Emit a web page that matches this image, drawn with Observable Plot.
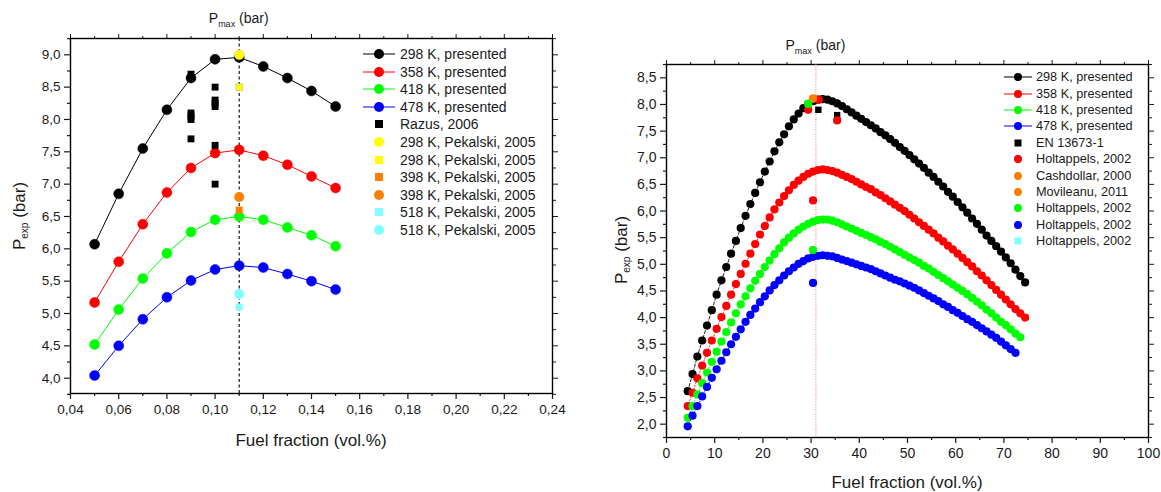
<!DOCTYPE html>
<html><head><meta charset="utf-8">
<script src="https://cdn.jsdelivr.net/npm/d3@7"></script>
<script src="https://cdn.jsdelivr.net/npm/@observablehq/plot@0.6"></script>
<style>
body{margin:0;background:#fff;font-family:"Liberation Sans",Arial,sans-serif;}
#wrap{position:relative;width:1161px;height:492px;overflow:hidden;background:#fff}
.panel{position:absolute;top:0}
.lbl{position:absolute;font-size:17px;color:#1a1a1a;white-space:nowrap;line-height:1}
.lbl sub{font-size:10px;vertical-align:-3px}
.pm{position:absolute;font-size:14px;color:#1a1a1a;white-space:nowrap;line-height:1;transform:translateX(-50%)}
.pm sub{font-size:9px;vertical-align:-4px}
.ylab{transform:translate(-50%,-50%) rotate(-90deg)}
.xlab{transform:translate(-50%,-50%)}
.leg{position:absolute;color:#1a1a1a;white-space:nowrap}
.leg .row{position:absolute;left:0;display:flex;align-items:center}
.leg svg{overflow:visible}
</style></head>
<body><div id="wrap"></div>
<script>
// ---------- LEFT PANEL DATA ----------
const leftX = [0.05, 0.06, 0.07, 0.08, 0.09, 0.10, 0.11, 0.12, 0.13, 0.14, 0.15];
const left298 = [6.07, 6.85, 7.55, 8.15, 8.64, 8.93, 8.96, 8.82, 8.64, 8.44, 8.20];
const left358 = [5.17, 5.80, 6.38, 6.87, 7.25, 7.48, 7.53, 7.44, 7.30, 7.12, 6.94];
const left418 = [4.52, 5.06, 5.54, 5.93, 6.26, 6.45, 6.50, 6.45, 6.33, 6.21, 6.04];
const left478 = [4.04, 4.50, 4.91, 5.25, 5.51, 5.68, 5.74, 5.71, 5.61, 5.50, 5.37];
const razusX = [0.09, 0.09, 0.09, 0.09, 0.09, 0.09, 0.10, 0.10, 0.10, 0.10, 0.10, 0.10];
const razusP = [8.70, 8.65, 8.10, 8.05, 8.00, 7.70, 8.50, 8.30, 8.25, 8.20, 7.60, 7.00];
const pekX = [0.11];
const pek298circle = [9.0];
const pek298square = [8.5];
const pek398square = [6.6];
const pek398circle = [6.8];
const pek518square = [5.1];
const pek518circle = [5.3];
const pmaxLeft = [0.11];
const leftXTicks = [0.04, 0.06, 0.08, 0.10, 0.12, 0.14, 0.16, 0.18, 0.20, 0.22, 0.24];
const leftXMinor = [0.05, 0.07, 0.09, 0.11, 0.13, 0.15, 0.17, 0.19, 0.21, 0.23];
const leftYTicks = [4.0, 4.5, 5.0, 5.5, 6.0, 6.5, 7.0, 7.5, 8.0, 8.5, 9.0];
const leftYMinor = [3.75, 4.25, 4.75, 5.25, 5.75, 6.25, 6.75, 7.25, 7.75, 8.25, 8.75, 9.25];
const leftLegendLabels = ["298 K, presented", "358 K, presented", "418 K, presented", "478 K, presented",
  "Razus, 2006", "298 K, Pekalski, 2005", "298 K, Pekalski, 2005", "398 K, Pekalski, 2005",
  "398 K, Pekalski, 2005", "518 K, Pekalski, 2005", "518 K, Pekalski, 2005"];

// ---------- RIGHT PANEL DATA ----------
const rightX = [4.4, 5.4, 6.4, 7.4, 8.4, 9.4, 10.4, 11.4, 12.4, 13.4, 14.4, 15.4, 16.4, 17.4, 18.4, 19.4,
  20.4, 21.4, 22.4, 23.4, 24.4, 25.4, 26.4, 27.4, 28.4, 29.4, 30.4, 31.4, 32.4, 33.4, 34.4, 35.4, 36.4,
  37.4, 38.4, 39.4, 40.4, 41.4, 42.4, 43.4, 44.4, 45.4, 46.4, 47.4, 48.4, 49.4, 50.4, 51.4, 52.4, 53.4,
  54.4, 55.4, 56.4, 57.4, 58.4, 59.4, 60.4, 61.4, 62.4, 63.4, 64.4, 65.4, 66.4, 67.4, 68.4, 69.4, 70.4,
  71.4, 72.4, 73.4, 74.4];
const right298 = [2.62, 2.94, 3.27, 3.57, 3.85, 4.14, 4.43, 4.70, 4.95, 5.20, 5.44, 5.68, 5.91, 6.13, 6.34,
  6.54, 6.74, 6.93, 7.12, 7.29, 7.44, 7.59, 7.72, 7.83, 7.93, 8.01, 8.06, 8.09, 8.10, 8.09, 8.06, 8.02,
  7.97, 7.91, 7.85, 7.79, 7.73, 7.67, 7.61, 7.55, 7.48, 7.42, 7.35, 7.28, 7.20, 7.13, 7.05, 6.97, 6.89,
  6.81, 6.72, 6.64, 6.55, 6.46, 6.36, 6.27, 6.17, 6.07, 5.97, 5.86, 5.76, 5.65, 5.54, 5.44, 5.34, 5.24,
  5.13, 5.02, 4.90, 4.78, 4.66];
const right358 = [2.34, 2.59, 2.86, 3.10, 3.34, 3.57, 3.79, 4.01, 4.22, 4.43, 4.63, 4.82, 5.01, 5.20, 5.38,
  5.56, 5.72, 5.88, 6.03, 6.16, 6.28, 6.39, 6.49, 6.57, 6.64, 6.70, 6.74, 6.77, 6.78, 6.77, 6.75, 6.72,
  6.68, 6.64, 6.60, 6.55, 6.50, 6.45, 6.41, 6.35, 6.30, 6.24, 6.18, 6.12, 6.06, 6.00, 5.93, 5.86, 5.79,
  5.72, 5.65, 5.58, 5.50, 5.43, 5.35, 5.28, 5.20, 5.12, 5.04, 4.96, 4.87, 4.79, 4.70, 4.61, 4.52, 4.43,
  4.34, 4.25, 4.16, 4.08, 4.00];
const right418 = [2.12, 2.34, 2.56, 2.77, 2.97, 3.17, 3.36, 3.55, 3.73, 3.91, 4.08, 4.25, 4.40, 4.55, 4.69,
  4.82, 4.95, 5.07, 5.19, 5.30, 5.41, 5.50, 5.58, 5.65, 5.71, 5.76, 5.80, 5.83, 5.84, 5.84, 5.82, 5.79,
  5.75, 5.71, 5.67, 5.63, 5.59, 5.55, 5.51, 5.47, 5.42, 5.38, 5.33, 5.28, 5.23, 5.18, 5.13, 5.08, 5.03,
  4.97, 4.92, 4.86, 4.80, 4.74, 4.68, 4.62, 4.56, 4.50, 4.44, 4.37, 4.30, 4.23, 4.15, 4.08, 4.00, 3.92,
  3.86, 3.78, 3.70, 3.63];
const right478 = [1.96, 2.16, 2.34, 2.52, 2.70, 2.87, 3.03, 3.19, 3.35, 3.50, 3.64, 3.78, 3.92, 4.05, 4.17,
  4.29, 4.40, 4.51, 4.61, 4.70, 4.79, 4.87, 4.94, 5.01, 5.06, 5.11, 5.14, 5.16, 5.17, 5.16, 5.15, 5.12,
  5.09, 5.06, 5.03, 5.00, 4.97, 4.94, 4.91, 4.87, 4.83, 4.79, 4.75, 4.71, 4.68, 4.64, 4.60, 4.56, 4.51,
  4.46, 4.41, 4.36, 4.31, 4.25, 4.20, 4.14, 4.09, 4.03, 3.97, 3.92, 3.86, 3.80, 3.74, 3.68, 3.62, 3.55,
  3.48, 3.41, 3.34];
const enX = [31.5, 35.4];
const enP = [7.90, 7.80];
const holt298X = [29.4, 31.6, 35.4];
const holt298P = [7.90, 8.09, 7.70];
const cashX = [30.4];
const cashP = [8.11];
const movX = [30.4];
const movP = [8.11];
const holt358X = [30.4];
const holt358P = [6.20];
const holt418aX = [29.4, 30.4];
const holt418aP = [8.01, 5.27];
const holt478X = [30.4];
const holt478P = [4.65];
const pmaxRight = [31];
const rightXTicks = [0, 10, 20, 30, 40, 50, 60, 70, 80, 90, 100];
const rightXMinor = [5, 15, 25, 35, 45, 55, 65, 75, 85, 95];
const rightYTicks = [2.0, 2.5, 3.0, 3.5, 4.0, 4.5, 5.0, 5.5, 6.0, 6.5, 7.0, 7.5, 8.0, 8.5];
const rightYMinor = [1.75, 2.25, 2.75, 3.25, 3.75, 4.25, 4.75, 5.25, 5.75, 6.25, 6.75, 7.25, 7.75, 8.25, 8.75];
const rightLegendLabels = ["298 K, presented", "358 K, presented", "418 K, presented", "478 K, presented",
  "EN 13673-1", "Holtappels, 2002", "Cashdollar, 2000", "Movileanu, 2011", "Holtappels, 2002",
  "Holtappels, 2002", "Holtappels, 2002"];

// ---------- STYLES ----------
const C = {k: "#000000", r: "#ff0000", g: "#00ff00", b: "#0000ff", y: "#ffff00", o: "#ff8000", c: "#80ffff"};
const leftLegendStyle = [
  {c: C.k, s: "circle", line: true}, {c: C.r, s: "circle", line: true}, {c: C.g, s: "circle", line: true},
  {c: C.b, s: "circle", line: true}, {c: C.k, s: "square"}, {c: C.y, s: "circle"}, {c: C.y, s: "square"},
  {c: C.o, s: "square"}, {c: C.o, s: "circle"}, {c: C.c, s: "square"}, {c: C.c, s: "circle"}];
const rightLegendStyle = [
  {c: C.k, s: "circle", line: true}, {c: C.r, s: "circle", line: true}, {c: C.g, s: "circle", line: true},
  {c: C.b, s: "circle", line: true}, {c: C.k, s: "square"}, {c: C.r, s: "circle"}, {c: C.o, s: "circle"},
  {c: C.o, s: "circle"}, {c: C.g, s: "circle"}, {c: C.b, s: "circle"}, {c: C.c, s: "square"}];

const rows = (xs, ys) => ys.map((y, i) => ({x: xs[i], y}));
const comma = (d, n) => d.toFixed(n).replace(".", ",");
const FONT = "Liberation Sans, Arial, sans-serif";

function frameAxes(xT, xM, yT, yM, xFmt, yFmt, fs) {
  const blank = () => "";
  return [
    Plot.axisX({ticks: xT, tickSize: 6, tickPadding: 5, tickFormat: xFmt, label: null, fontSize: fs, strokeWidth: 1.2}),
    Plot.axisX({ticks: xM, tickSize: 3, tickFormat: blank, label: null, strokeWidth: 1.2}),
    Plot.axisX({anchor: "top", ticks: xT, tickSize: 5, tickFormat: blank, label: null, strokeWidth: 1}),
    Plot.axisX({anchor: "top", ticks: xM, tickSize: 3, tickFormat: blank, label: null, strokeWidth: 1}),
    Plot.axisY({ticks: yT, tickSize: 6, tickPadding: 4, tickFormat: yFmt, label: null, fontSize: fs, strokeWidth: 1.2}),
    Plot.axisY({ticks: yM, tickSize: 3, tickFormat: blank, label: null, strokeWidth: 1.2}),
    Plot.axisY({anchor: "right", ticks: yT, tickSize: 5, tickFormat: blank, label: null, strokeWidth: 1}),
    Plot.axisY({anchor: "right", ticks: yM, tickSize: 3, tickFormat: blank, label: null, strokeWidth: 1}),
    Plot.frame({stroke: "#000", strokeWidth: 1.4})
  ];
}

// ---------- LEFT PLOT ----------
const leftSeries = [[left298, C.k], [left358, C.r], [left418, C.g], [left478, C.b]];
const leftPlot = Plot.plot({
  width: 580, height: 492,
  marginLeft: 70, marginRight: 28, marginTop: 38, marginBottom: 99,
  style: {fontFamily: FONT, fontSize: "13.5px", color: "#1a1a1a", background: "transparent"},
  x: {domain: [0.04, 0.24]},
  y: {domain: [3.763, 9.252]},
  marks: [
    ...frameAxes(leftXTicks, leftXMinor, leftYTicks, leftYMinor, d => comma(d, 2), d => comma(d, 1), 13.5),
    Plot.ruleX(pmaxLeft, {stroke: "#000", strokeDasharray: "3,2.5", strokeWidth: 1.1}),
    ...leftSeries.flatMap(([ys, col]) => [
      Plot.line(rows(leftX, ys), {x: "x", y: "y", stroke: col, strokeWidth: 1}),
      Plot.dot(rows(leftX, ys), {x: "x", y: "y", r: 5, fill: col, stroke: col, strokeWidth: 0.5})
    ]),
    Plot.dot(rows(razusX, razusP), {x: "x", y: "y", symbol: "square", r: 3.9, fill: C.k}),
    Plot.dot(rows(pekX, pek298square), {x: "x", y: "y", symbol: "square", r: 3.9, fill: C.y, stroke: "#999", strokeWidth: 0.4}),
    Plot.dot(rows(pekX, pek298circle), {x: "x", y: "y", r: 5, fill: C.y, stroke: "#bbb", strokeWidth: 0.4}),
    Plot.dot(rows(pekX, pek398square), {x: "x", y: "y", symbol: "square", r: 3.9, fill: C.o}),
    Plot.dot(rows(pekX, pek398circle), {x: "x", y: "y", r: 5, fill: C.o}),
    Plot.dot(rows(pekX, pek518square), {x: "x", y: "y", symbol: "square", r: 3.9, fill: C.c}),
    Plot.dot(rows(pekX, pek518circle), {x: "x", y: "y", r: 5, fill: C.c})
  ]
});

// ---------- RIGHT PLOT ----------
const rightSeries = [[right298, C.k, "3,2"], [right358, C.r, "1,2"], [right418, C.g, "1,2"], [right478, C.b, "1,2"]];
const rightPlot = Plot.plot({
  width: 581, height: 492,
  marginLeft: 86, marginRight: 13, marginTop: 64, marginBottom: 55,
  style: {fontFamily: FONT, fontSize: "14px", color: "#1a1a1a", background: "transparent"},
  x: {domain: [0, 100]},
  y: {domain: [1.75, 8.75]},
  marks: [
    ...frameAxes(rightXTicks, rightXMinor, rightYTicks, rightYMinor, d => String(d), d => comma(d, 1), 14),
    Plot.ruleX(pmaxRight, {stroke: "#f07070", strokeDasharray: "1,1.5", strokeWidth: 1}),
    ...rightSeries.flatMap(([ys, col, dash]) => [
      Plot.line(rows(rightX, ys), {x: "x", y: "y", stroke: col, strokeWidth: 0.9, strokeDasharray: dash}),
      Plot.dot(rows(rightX, ys), {x: "x", y: "y", r: 4.1, fill: col})
    ]),
    Plot.dot(rows(enX, enP), {x: "x", y: "y", symbol: "square", r: 3.6, fill: C.k}),
    Plot.dot(rows(holt298X, holt298P), {x: "x", y: "y", r: 4.1, fill: C.r}),
    Plot.dot(rows(holt358X, holt358P), {x: "x", y: "y", r: 4.1, fill: C.r}),
    Plot.dot(rows(cashX, cashP), {x: "x", y: "y", r: 4.1, fill: C.o}),
    Plot.dot(rows(movX, movP), {x: "x", y: "y", r: 4.1, fill: C.o}),
    Plot.dot(rows(holt418aX, holt418aP), {x: "x", y: "y", r: 4.1, fill: C.g}),
    Plot.dot(rows(holt478X, holt478P), {x: "x", y: "y", r: 4.1, fill: C.b})
  ]
});

// ---------- ASSEMBLY ----------
const wrap = document.getElementById("wrap");
const lp = document.createElement("div"); lp.className = "panel"; lp.style.left = "0px"; lp.appendChild(leftPlot);
const rp = document.createElement("div"); rp.className = "panel"; rp.style.left = "580px"; rp.appendChild(rightPlot);
wrap.appendChild(lp); wrap.appendChild(rp);

function addHTML(html) { const t = document.createElement("template"); t.innerHTML = html.trim(); const n = t.content.firstChild; wrap.appendChild(n); return n; }

// axis titles
addHTML(`<div class="lbl xlab" style="left:311px;top:440px">Fuel fraction (vol.%)</div>`);
addHTML(`<div class="lbl xlab" style="left:907px;top:482px">Fuel fraction (vol.%)</div>`);
addHTML(`<div class="lbl ylab" style="left:20px;top:216px">P<sub>exp</sub> (bar)</div>`);
addHTML(`<div class="lbl ylab" style="left:622px;top:250px">P<sub>exp</sub> (bar)</div>`);
// Pmax labels positioned over the Pmax rule
const lxs = leftPlot.scale("x"), rxs = rightPlot.scale("x");
addHTML(`<div class="pm" style="left:${lxs.apply(pmaxLeft[0])}px;top:11px">P<sub>max</sub> (bar)</div>`);
addHTML(`<div class="pm" style="left:${580 + rxs.apply(pmaxRight[0])}px;top:38px">P<sub>max</sub> (bar)</div>`);

function legend(labels, styles, o) {
  const div = addHTML(`<div class="leg" style="left:${o.left}px;top:${o.top}px;font-size:${o.fs}px"></div>`);
  labels.forEach((lab, i) => {
    const st = styles[i];
    const w = o.lineW, h = 14, cx = w / 2, cy = h / 2;
    let sym = st.s === "circle"
      ? `<circle cx="${cx}" cy="${cy}" r="${o.r}" fill="${st.c}"/>`
      : `<rect x="${cx - o.sq / 2}" y="${cy - o.sq / 2}" width="${o.sq}" height="${o.sq}" fill="${st.c}"/>`;
    const line = st.line ? `<line x1="0" x2="${w}" y1="${cy}" y2="${cy}" stroke="${st.c}" stroke-width="1"/>` : "";
    const row = addHTML(`<div class="row" style="top:${i * o.dy - h / 2}px;height:${h}px"><svg width="${w}" height="${h}">${line}${sym}</svg><span style="margin-left:${o.gap}px">${lab}</span></div>`);
    div.appendChild(row);
  });
}
legend(leftLegendLabels, leftLegendStyle, {left: 363, top: 54, dy: 17.6, fs: 14, lineW: 32, r: 5, sq: 8, gap: 5});
legend(rightLegendLabels, rightLegendStyle, {left: 1004, top: 77.3, dy: 16.4, fs: 12.7, lineW: 28, r: 4, sq: 7, gap: 4});
</script>
</body></html>
